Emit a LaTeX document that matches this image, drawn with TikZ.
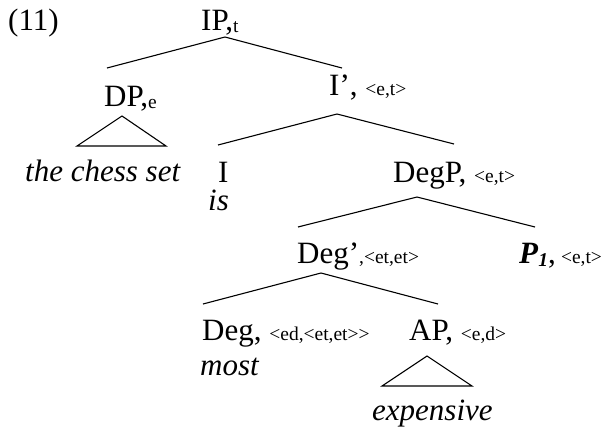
\documentclass[tikz,border=0pt]{standalone}
\usepackage{fontspec}
\setmainfont{Liberation Serif}
\newcommand{\semtype}[1]{{\fontsize{19.5}{22}\selectfont #1}}
\newcommand{\lowtype}[1]{\raisebox{-2pt}{\semtype{#1}}}
\tikzset{
    cat/.style={anchor=base west, inner sep=0pt, font=\fontsize{31}{36}\selectfont},
    word/.style={cat, font=\fontsize{31}{36}\selectfont\itshape},
    branch/.style={line width=1.1pt},
}
\begin{document}
\begin{tikzpicture}[x=1pt, y=-1pt]
    \useasboundingbox (0,0) rectangle (606,432);

    \node[cat] (ex) at (8,30) {(11)};

    \node[cat] (IP)   at (201,30)  {IP,\lowtype{t}};
    \node[cat] (DP)   at (104,106) {DP,\lowtype{e}};
    \node[cat] (Ibar) at (329,95)  {I’, \semtype{<e,t>}};
    \node[word] (chess) at (25,181) {the chess set};
    \node[cat] (I)    at (218,182) {I};
    \node[word] (is)  at (208,210) {is};
    \node[cat] (DegP) at (393,182) {DegP, \semtype{<e,t>}};
    \node[cat] (Degbar) at (297,263) {Deg’\semtype{,<et,et>}};
    \node[cat] (P1)   at (519,263) {\textbf{\textit{P}}\raisebox{-3pt}{\semtype{\bfseries\itshape 1}},\,\semtype{<e,t>}};
    \node[cat] (Deg)  at (202,340) {Deg, \semtype{<ed,<et,et>{}>}};
    \node[word] (most) at (200,375) {most};
    \node[cat] (AP)   at (409,340) {AP, \semtype{<e,d>}};
    \node[word] (exp) at (372,420) {expensive};

    % branch points
    \coordinate (IPa)  at (225,37);
    \coordinate (IPl)  at (107,68);
    \coordinate (IPr)  at (342,68);
    \coordinate (Ia)   at (337,114);
    \coordinate (Il)   at (218,145);
    \coordinate (Ir)   at (454,144);
    \coordinate (DegPa) at (417,197);
    \coordinate (DegPl) at (298,227);
    \coordinate (DegPr) at (535,227);
    \coordinate (Dega) at (321,273);
    \coordinate (Degl) at (203,304);
    \coordinate (Degr) at (438,304);

    \draw[branch] (IPl) -- (IPa) -- (IPr);
    \draw[branch] (Il) -- (Ia) -- (Ir);
    \draw[branch] (DegPl) -- (DegPa) -- (DegPr);
    \draw[branch] (Degl) -- (Dega) -- (Degr);

    % triangles
    \draw[branch] (122,116) -- (77,146) -- (166,146) -- cycle;
    \draw[branch] (427,356) -- (382,386) -- (472,386) -- cycle;
\end{tikzpicture}
\end{document}
